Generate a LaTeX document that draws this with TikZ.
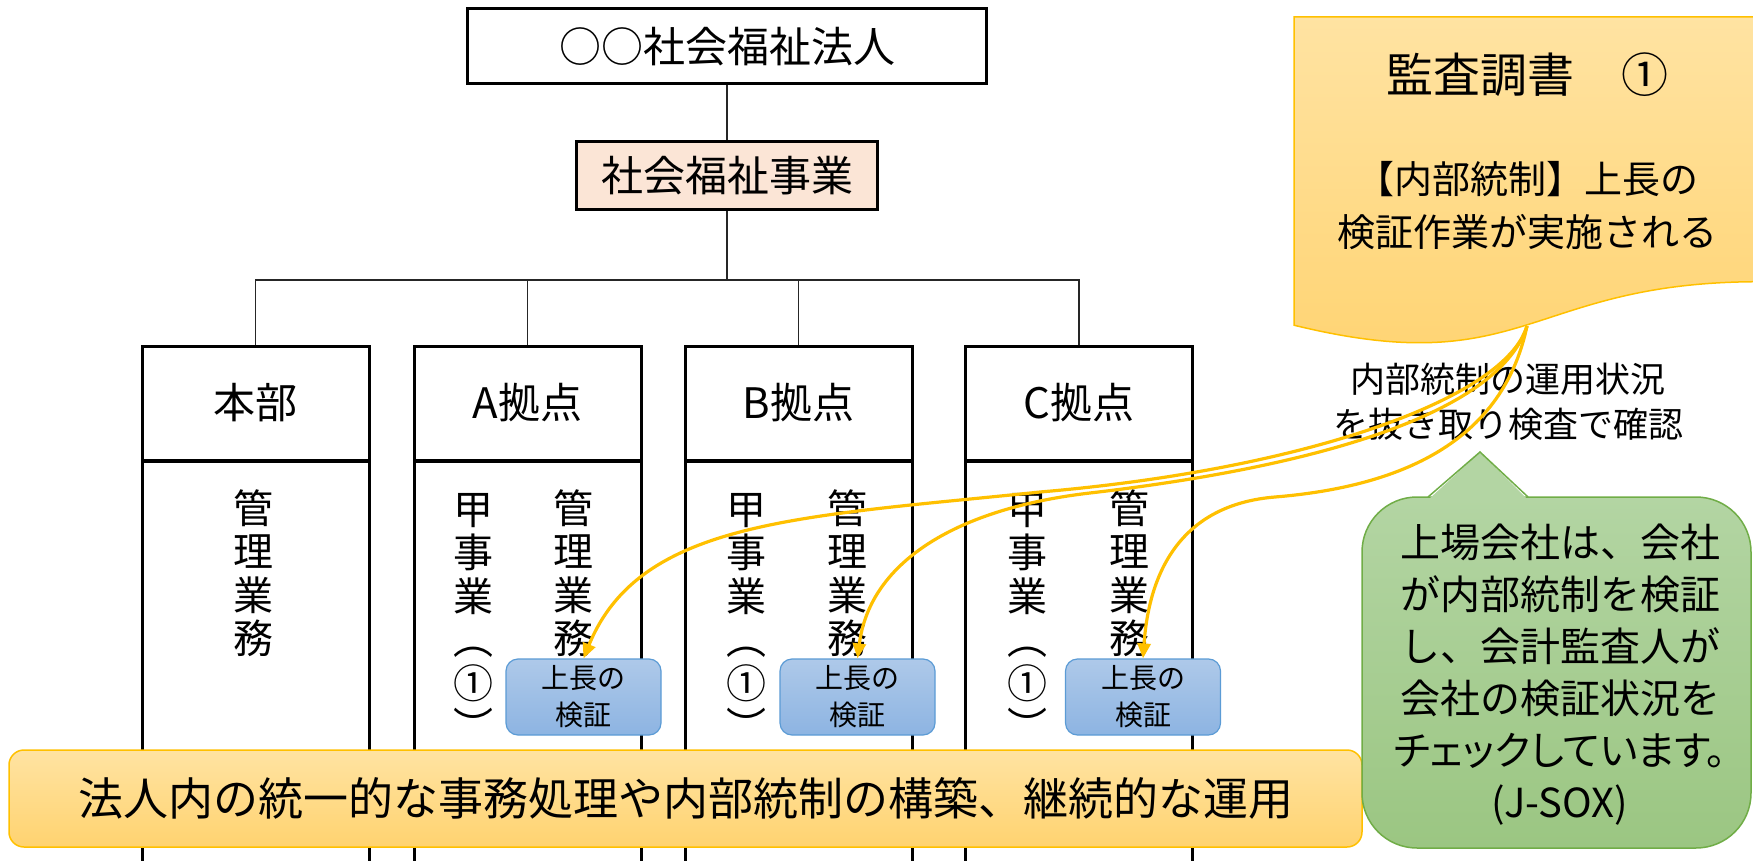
\documentclass[tikz,border=0pt]{standalone}
\usepackage{fontspec}
\setmainfont{Noto Sans CJK JP}
\newfontfamily\jpp[RawFeature=+palt]{Noto Sans CJK JP}
\usetikzlibrary{arrows.meta}
\definecolor{gold}{HTML}{FFC000}
\definecolor{docTop}{HTML}{FFE3A2}
\definecolor{docBot}{HTML}{FFD370}
\definecolor{peach}{HTML}{FBE5D6}
\definecolor{blueTop}{HTML}{AEC9E9}
\definecolor{blueBot}{HTML}{8DB4E2}
\definecolor{blueLine}{HTML}{5B9BD5}
\definecolor{greenTop}{HTML}{B3D5A3}
\definecolor{greenBot}{HTML}{9BC682}
\definecolor{greenLine}{HTML}{70AD47}
\definecolor{linkgray}{HTML}{262626}
\begin{document}
\begin{tikzpicture}[x=1pt,y=-1pt,
  orgbox/.style={draw=black, line width=3pt, fill=white, inner sep=0pt, font=\fontsize{42}{50}\selectfont},
  hdrbox/.style={orgbox, minimum width=227pt, minimum height=114pt},
  bodybox/.style={draw=black, line width=3pt, fill=white, minimum width=227pt, minimum height=440pt, inner sep=0pt, anchor=north},
  vch/.style={anchor=base, inner sep=0pt, font=\fontsize{40}{40}\selectfont},
  chkbox/.style={draw=blueLine, line width=1.2pt, rounded corners=12pt, top color=blueTop, bottom color=blueBot, minimum width=155pt, minimum height=76pt, inner sep=0pt, align=center, font=\fontsize{28}{37}\selectfont},
  tline/.style={draw=linkgray, line width=1.5pt},
  goldcurve/.style={draw=gold, line width=3.2pt, -{Triangle[length=15pt,width=13pt]}},
]
\useasboundingbox (0,0) rectangle (1753,861);
\clip (0,0) rectangle (1753,861);

% tree
\node[orgbox, minimum width=519pt, minimum height=75pt] (org) at (727,46.5) {○○社会福祉法人};
\node[orgbox, fill=peach, minimum width=301pt, minimum height=68pt] (soc) at (727,176) {社会福祉事業};
\coordinate (jn) at (727,280);
\draw[tline] (org) -- (soc);
\draw[tline] (soc) -- (jn);

% columns
\node[bodybox] (b1) at (255.5,460) {};
\node[bodybox] (b2) at (527.5,460) {};
\node[bodybox] (b3) at (798.5,460) {};
\node[bodybox] (b4) at (1079,460) {};
\node[hdrbox] (h1) at (255.5,403) {本部};
\node[hdrbox] (h2) at (527.5,403) {A拠点};
\node[hdrbox] (h3) at (798.5,403) {B拠点};
\node[hdrbox] (h4) at (1079,403) {C拠点};
\draw[tline] (jn) -| (h1);
\draw[tline] (jn) -| (h2);
\draw[tline] (jn) -| (h3);
\draw[tline] (jn) -| (h4);

% vertical texts
\foreach \c [count=\i] in {管,理,業,務} {
  \node[vch] (k1\i) at (253, 523+43.5*\i-43.5) {\c};
  \node[vch] (k2\i) at (573, 523+43.5*\i-43.5) {\c};
  \node[vch] (k3\i) at (847, 523+43.5*\i-43.5) {\c};
  \node[vch] (k4\i) at (1129, 523+43.5*\i-43.5) {\c};
}
\foreach \c [count=\i] in {甲,事,業,︵,①,︶} {
  \node[vch] (j2\i) at (473, 524+43.5*\i-43.5) {\c};
  \node[vch] (j3\i) at (746, 524+43.5*\i-43.5) {\c};
  \node[vch] (j4\i) at (1027, 524+43.5*\i-43.5) {\c};
}

% audit document
\path[draw=gold, line width=1.5pt, top color=docTop, bottom color=docBot]
  (1294,17) -- (1760,17) -- (1760,281.7) .. controls (1527,281.7) and (1527,382.3) .. (1294,325.2) -- cycle;
\node[inner sep=0pt, font=\fontsize{47}{56}\selectfont] (dt1) at (1527,75) {監査調書　①};
\node[inner sep=0pt, align=center, font=\fontsize{38}{53}\selectfont] (dt2) at (1527,206) {【内部統制】上長の\\検証作業が実施される};
\coordinate (src) at (1527,326);

% label
\node[inner sep=0pt, align=center, font=\fontsize{35}{45}\selectfont] (lbl) at (1508,402) {内部統制の運用状況\\を抜き取り検査で確認};

% check boxes
\node[chkbox] (cA) at (583.5,697) {上長の\\検証};
\node[chkbox] (cB) at (857.5,697) {上長の\\検証};
\node[chkbox] (cC) at (1143,697) {上長の\\検証};

% curves
\draw[goldcurve] (src) .. controls (1505,400) and (1300,470) .. (1040,492) .. controls (800,517) and (640,520) .. (cA.north);
\draw[goldcurve] (src) .. controls (1500,410) and (1330,465) .. (1090,493) .. controls (960,508) and (870,560) .. (cB.north);
\draw[goldcurve] (src) .. controls (1505,430) and (1420,485) .. (1275,497) .. controls (1190,504) and (1150,560) .. (cC.north);

% bottom bar
\node[draw=gold, line width=1.5pt, rounded corners=15pt, top color=docTop, bottom color=docBot, minimum width=1353pt, minimum height=97pt, inner sep=0pt, font=\fontsize{45}{54}\selectfont] (bar) at (685.5,798.5) {法人内の統一的な事務処理や内部統制の構築、継続的な運用};

% green callout
\node[draw=greenLine, line width=1.5pt, rounded corners=55pt, top color=greenTop, bottom color=greenBot, minimum width=389pt, minimum height=351pt, inner sep=0pt] (gbox) at (1556.5,672.5) {};
\fill[greenTop] (1428,500) -- (1480,452) -- (1528,500) -- cycle;
\draw[greenLine, line width=1.5pt] (1428,497) -- (1480,452) -- (1528,497);
\node[inner sep=0pt, align=center, font=\fontsize{40}{52}\selectfont] (gtxt) at (1560,675) {上場会社は、会社\\が内部統制を検証\\し、会計監査人が\\会社の検証状況を\\{\jpp チェックしています。}\\(J-SOX)};
\end{tikzpicture}
\end{document}
